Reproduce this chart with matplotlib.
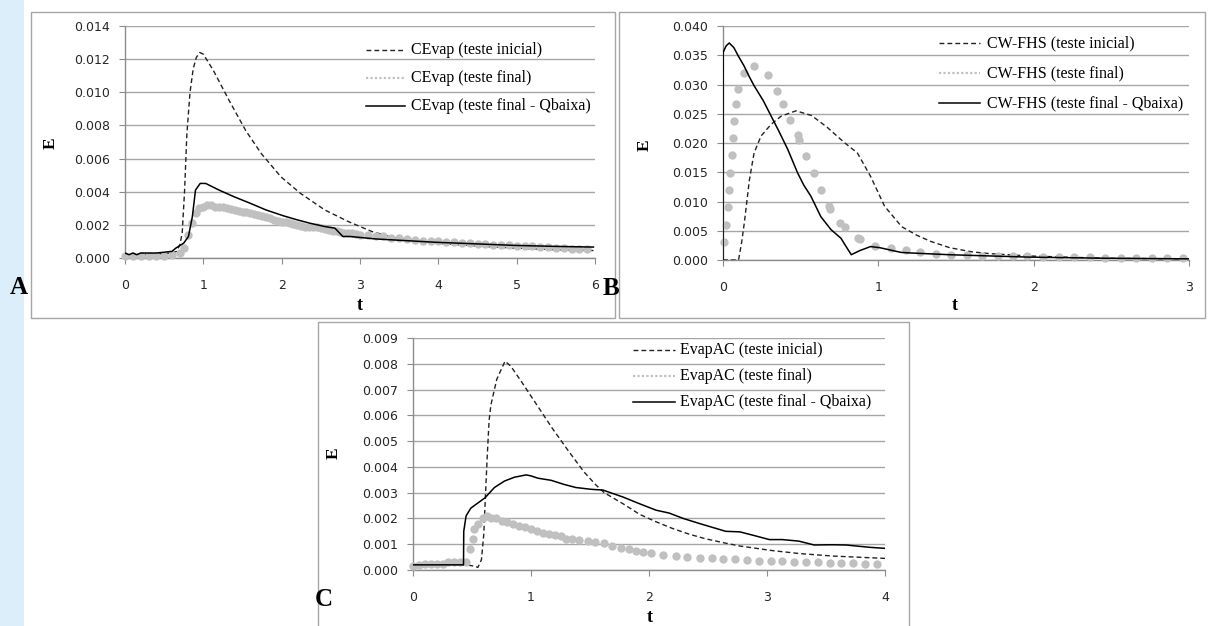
import matplotlib
matplotlib.use("Agg")
import matplotlib.pyplot as plt
from matplotlib.lines import Line2D
from matplotlib.patches import Rectangle
from matplotlib.ticker import FormatStrFormatter
import numpy as np

W, H = 1209, 626
SERIF = "Liberation Serif"
SANS = "DejaVu Sans"
GRID = "#a6a6a6"
BOX = "#a6a6a6"
DOT_GRAY = "#c0c0c0"
DASH = (0, (3.5, 2.2))

# ---- Panel A: CEvap ----
A_ini_t = [0, 0.3, 0.6, 0.66, 0.7, 0.73, 0.76, 0.79, 0.83, 0.87, 0.91, 0.955, 1.0, 1.13,
           1.33, 1.54, 1.74, 1.99, 2.24, 2.55, 2.85, 3.15, 3.45, 3.96, 4.5, 4.97, 5.5, 5.98]
A_ini_E = [0.0002, 0.0002, 0.0003, 0.0004, 0.0008, 0.0015, 0.0040, 0.0075, 0.0100, 0.0114,
           0.0121, 0.0124, 0.0123, 0.0113, 0.0095, 0.0077, 0.0063, 0.0049, 0.0039, 0.0029,
           0.0022, 0.0016, 0.0012, 0.0009, 0.00072, 0.0006, 0.0005, 0.00045]

A_low_t = [0, 0.05, 0.1, 0.15, 0.2, 0.4, 0.6, 0.65, 0.75, 0.81, 0.86, 0.9, 0.96, 1.03,
           1.2, 1.39, 1.6, 1.8, 2.02, 2.2, 2.36, 2.55, 2.68, 2.78, 2.87, 3.2, 3.96, 4.5,
           4.97, 5.5, 5.98]
A_low_E = [0.0003, 0.0002, 0.0003, 0.0002, 0.0003, 0.0003, 0.0004, 0.0006, 0.0009, 0.0013,
           0.0025, 0.0041, 0.0045, 0.0045, 0.0041, 0.0037, 0.0033, 0.0029, 0.00255, 0.0023,
           0.0021, 0.0019, 0.0018, 0.0013, 0.0013, 0.00115, 0.00095, 0.00085, 0.00076,
           0.0007, 0.00066]

A_fin_t = [0.0, 0.1, 0.2, 0.3, 0.4, 0.5, 0.6, 0.7, 0.75, 0.8, 0.85, 0.9, 0.95, 1.0, 1.05,
           1.1, 1.15, 1.2, 1.25, 1.3, 1.35, 1.4, 1.45, 1.5, 1.55, 1.6, 1.65, 1.7, 1.75, 1.8,
           1.85, 1.9, 1.95, 2.0, 2.05, 2.1, 2.15, 2.2, 2.25, 2.3, 2.35, 2.4, 2.45, 2.5,
           2.55, 2.6, 2.65, 2.7, 2.75, 2.8, 2.85, 2.9, 2.95, 3.0, 3.1, 3.2, 3.3, 3.4, 3.5,
           3.6, 3.7, 3.8, 3.9, 4.0, 4.1, 4.2, 4.3, 4.4, 4.5, 4.6, 4.7, 4.8, 4.9, 5.0, 5.1,
           5.2, 5.3, 5.4, 5.5, 5.6, 5.7, 5.8, 5.9]
A_fin_E = [0.00015, 0.00015, 0.00015, 0.00015, 0.00015, 0.00015, 0.0002, 0.0003, 0.0006,
           0.0014, 0.0021, 0.0027, 0.0030, 0.0031, 0.0032, 0.0032, 0.0031, 0.0031, 0.00305,
           0.0030, 0.00295, 0.0029, 0.00285, 0.0028, 0.00275, 0.0027, 0.00265, 0.0026,
           0.00255, 0.0025, 0.0024, 0.0023, 0.00225, 0.0022, 0.00215, 0.0021, 0.00205,
           0.0020, 0.00195, 0.0019, 0.0019, 0.0019, 0.00185, 0.0018, 0.00175, 0.0017,
           0.00165, 0.0016, 0.00155, 0.0015, 0.0015, 0.0015, 0.00145, 0.0014, 0.0014,
           0.0013, 0.0013, 0.0012, 0.0012, 0.00115, 0.0011, 0.00105, 0.0010, 0.0010,
           0.00097, 0.00095, 0.00092, 0.0009, 0.00087, 0.00084, 0.0008, 0.00078, 0.00076,
           0.00074, 0.00072, 0.0007, 0.00067, 0.00065, 0.00063, 0.0006, 0.00057, 0.00055,
           0.00053]

# ---- Panel B: CW-FHS ----
B_ini_t = [0, 0.1, 0.12, 0.137, 0.17, 0.2, 0.245, 0.31, 0.375, 0.47, 0.57, 0.67, 0.78,
           0.865, 0.95, 1.04, 1.15, 1.25, 1.335, 1.46, 1.6, 1.71, 1.96, 2.2, 2.46, 3.0]
B_ini_E = [0, 0, 0.003, 0.0063, 0.0137, 0.0183, 0.0212, 0.0232, 0.0246, 0.0255, 0.0247,
           0.0227, 0.0201, 0.0183, 0.0143, 0.0092, 0.0057, 0.0042, 0.0032, 0.0021, 0.0014,
           0.0011, 0.0007, 0.0005, 0.0003, 0.0002]

B_low_t = [0, 0.001, 0.02, 0.04, 0.07, 0.1, 0.135, 0.17, 0.2, 0.26, 0.31, 0.36, 0.417,
           0.48, 0.52, 0.566, 0.63, 0.695, 0.76, 0.79, 0.826, 0.88, 0.95, 1.01, 1.146, 1.21,
           1.46, 1.71, 1.96, 2.46, 3.0]
B_low_E = [0, 0.0355, 0.0366, 0.0371, 0.0363, 0.0348, 0.0332, 0.0313, 0.0298, 0.0272,
           0.0246, 0.0220, 0.0189, 0.0149, 0.0128, 0.0109, 0.0074, 0.0052, 0.0037, 0.0024,
           0.0009, 0.0016, 0.0023, 0.0021, 0.0013, 0.0012, 0.0009, 0.0007, 0.0005, 0.0003,
           0.0002]

B_fin_t = [0.009, 0.02, 0.03, 0.039, 0.047, 0.056, 0.062, 0.069, 0.082, 0.094, 0.137,
           0.197, 0.287, 0.347, 0.388, 0.433, 0.48, 0.49, 0.536, 0.588, 0.63, 0.68, 0.69,
           0.755, 0.785, 0.87, 0.88, 0.977, 1.08, 1.18, 1.27, 1.37, 1.47, 1.57, 1.67, 1.77,
           1.87, 1.96, 2.06, 2.16, 2.26, 2.36, 2.46, 2.56, 2.66, 2.76, 2.86, 2.96]
B_fin_E = [0.003, 0.006, 0.009, 0.0119, 0.0148, 0.0179, 0.0208, 0.0237, 0.0266, 0.0293,
           0.0319, 0.0332, 0.0316, 0.0289, 0.0267, 0.0240, 0.0213, 0.0205, 0.0177, 0.0149,
           0.0120, 0.0092, 0.0087, 0.0064, 0.0056, 0.0037, 0.0036, 0.0024, 0.0020, 0.0017,
           0.0014, 0.0011, 0.0009, 0.0008, 0.0007, 0.0007, 0.0006, 0.0006, 0.0005, 0.0005,
           0.0005, 0.0005, 0.0004, 0.0004, 0.0004, 0.0003, 0.0003, 0.0003]

# ---- Panel C: EvapAC ----
C_ini_t = [0, 0.45, 0.52, 0.55, 0.58, 0.6, 0.614, 0.63, 0.645, 0.66, 0.71, 0.78, 0.83,
           0.92, 1.05, 1.18, 1.32, 1.45, 1.55, 1.62, 1.78, 1.92, 2.06, 2.2, 2.34, 2.48,
           2.63, 2.77, 2.91, 3.05, 3.27, 3.56, 4.0]
C_ini_E = [0.0002, 0.0002, 0.00015, 0.0001, 0.0004, 0.0014, 0.0029, 0.0045, 0.0058,
           0.0064, 0.0074, 0.0081, 0.0079, 0.0073, 0.0064, 0.0055, 0.0046, 0.0038, 0.0033,
           0.0030, 0.00257, 0.00216, 0.00187, 0.00161, 0.00139, 0.00121, 0.00106, 0.00093,
           0.00084, 0.00075, 0.00064, 0.00054, 0.00045]

C_low_t = [0, 0.428, 0.43, 0.45, 0.49, 0.55, 0.61, 0.69, 0.775, 0.86, 0.96, 1.0, 1.06,
           1.17, 1.28, 1.38, 1.51, 1.61, 1.78, 1.92, 2.06, 2.17, 2.29, 2.43, 2.57, 2.65,
           2.77, 2.88, 3.02, 3.13, 3.27, 3.4, 3.55, 3.67, 3.87, 4.0]
C_low_E = [0.0002, 0.0002, 0.0015, 0.0021, 0.0024, 0.0026, 0.0028, 0.0032, 0.00345,
           0.0036, 0.00369, 0.00365, 0.00356, 0.00348, 0.00332, 0.0032, 0.00313, 0.0031,
           0.00283, 0.00257, 0.00232, 0.00221, 0.0020, 0.0018, 0.00161, 0.0015, 0.00148,
           0.00135, 0.00118, 0.00118, 0.00112, 0.00097, 0.00098, 0.00097, 0.00088, 0.00084]

C_fin_t = [0, 0.05, 0.1, 0.15, 0.2, 0.25, 0.3, 0.35, 0.4, 0.45, 0.48, 0.51, 0.52, 0.55,
           0.59, 0.63, 0.66, 0.7, 0.75, 0.8, 0.85, 0.9, 0.95, 1.0, 1.05, 1.1, 1.15, 1.2,
           1.25, 1.3, 1.35, 1.41, 1.48, 1.54, 1.62, 1.69, 1.76, 1.83, 1.89, 1.95, 2.02,
           2.12, 2.23, 2.32, 2.43, 2.53, 2.63, 2.73, 2.83, 2.93, 3.03, 3.13, 3.23, 3.33,
           3.43, 3.53, 3.63, 3.73, 3.83, 3.93]
C_fin_E = [0.00015, 0.0002, 0.00025, 0.00025, 0.00025, 0.00025, 0.0003, 0.0003, 0.0003,
           0.0003, 0.0008, 0.0012, 0.0016, 0.0018, 0.0020, 0.0021, 0.0020, 0.0020, 0.0019,
           0.00185, 0.0018, 0.0017, 0.00165, 0.0016, 0.0015, 0.00145, 0.0014, 0.00135,
           0.0013, 0.00122, 0.0012, 0.00116, 0.00113, 0.00108, 0.00103, 0.00093, 0.00086,
           0.0008, 0.00075, 0.0007, 0.00067, 0.0006, 0.00055, 0.00051, 0.00048, 0.00046,
           0.00042, 0.00041, 0.00039, 0.00036, 0.00035, 0.00034, 0.00032, 0.00031, 0.0003,
           0.00028, 0.00027, 0.00026, 0.00025, 0.00024]

SUFFIXES = [" (teste inicial)", " (teste final)", " (teste final - Qbaixa)"]

# geometry in pixels (x from left, y from top)
PANELS = [
    dict(name="CEvap", letter="A", box=(31, 12, 615, 318), axes=(125, 26, 595, 258),
         xmax=6, ymax=0.014, ystep=0.002,
         data=((A_ini_t, A_ini_E), (A_fin_t, A_fin_E), (A_low_t, A_low_E)),
         leg=(366, 405, 411, [50, 78, 106]), elab=(51, 143), tlab=(360, 306),
         let=(19, 288)),
    dict(name="CW-FHS", letter="B", box=(619, 12, 1205, 318), axes=(723, 26, 1189, 260),
         xmax=3, ymax=0.040, ystep=0.005,
         data=((B_ini_t, B_ini_E), (B_fin_t, B_fin_E), (B_low_t, B_low_E)),
         leg=(939, 980, 987, [43, 73, 103]), elab=(645, 145), tlab=(955, 305),
         let=(611, 289)),
    dict(name="EvapAC", letter="C", box=(318, 322, 909, 630), axes=(413, 338, 885, 570),
         xmax=4, ymax=0.009, ystep=0.001,
         data=((C_ini_t, C_ini_E), (C_fin_t, C_fin_E), (C_low_t, C_low_E)),
         leg=(633, 675, 680, [350, 376, 402]), elab=(334, 453), tlab=(650, 617),
         let=(324, 599)),
]

fig = plt.figure(figsize=(W / 100, H / 100), dpi=100)
fig.patch.set_facecolor("white")


def fx(x):
    return x / W


def fy(y):
    return 1 - y / H


# light blue strip on the left
fig.add_artist(Rectangle((0, 0), fx(24), 1, transform=fig.transFigure,
                         fc="#dbeefa", ec="none", zorder=0))

for p in PANELS:
    bl, bt, br, bb = p["box"]
    fig.add_artist(Rectangle((fx(bl), fy(bb)), (br - bl) / W, (bb - bt) / H,
                             transform=fig.transFigure, fill=False, ec=BOX, lw=1.0))

    l, t, r, b = p["axes"]
    ax = fig.add_axes([fx(l), fy(b), (r - l) / W, (b - t) / H])
    (ti, ei), (tf, ef), (tl, el) = p["data"]
    ax.plot(ti, ei, color="#222222", lw=1.0, linestyle=DASH, zorder=3)
    ax.plot(tf, ef, linestyle="none", marker="o", ms=6.0, color=DOT_GRAY,
            mec="none", zorder=4, clip_on=False)
    ax.plot(tl, el, color="black", lw=1.1, zorder=5)

    ax.set_xlim(0, p["xmax"])
    ax.set_ylim(0, p["ymax"])
    ax.set_xticks(np.arange(0, p["xmax"] + 1))
    ax.set_yticks(np.arange(0, p["ymax"] + p["ystep"] / 2, p["ystep"]))
    ax.yaxis.set_major_formatter(FormatStrFormatter("%.3f"))
    ax.yaxis.grid(True, color=GRID, lw=1.0)
    ax.set_axisbelow(True)
    for s in ("top", "right"):
        ax.spines[s].set_visible(False)
    for s in ("left", "bottom"):
        ax.spines[s].set_color("#8c8c8c")
        ax.spines[s].set_linewidth(1.0)
    ax.tick_params(axis="y", length=4, color="#8c8c8c", pad=7,
                   labelsize=9, labelcolor="#262626")
    ax.tick_params(axis="x", length=4, color="#8c8c8c", pad=11,
                   labelsize=9, labelcolor="#262626")
    for lab in ax.get_xticklabels() + ax.get_yticklabels():
        lab.set_fontfamily(SANS)

    # legend drawn by hand, Excel style
    x0, x1, xt, rows = p["leg"]
    styles = [dict(color="#222222", lw=1.0, linestyle=DASH),
              dict(color=DOT_GRAY, lw=1.6, linestyle=(0, (1, 1))),
              dict(color="black", lw=1.1, linestyle="-")]
    for suffix, row, st in zip(SUFFIXES, rows, styles):
        fig.add_artist(Line2D([fx(x0), fx(x1)], [fy(row), fy(row)],
                              transform=fig.transFigure, **st))
        fig.text(fx(xt), fy(row), p["name"] + suffix, family=SERIF, fontsize=11.5,
                 ha="left", va="center", color="black")

    fig.text(fx(p["elab"][0]), fy(p["elab"][1]), "E", family=SERIF, fontsize=12.5,
             fontweight="bold", rotation=90, ha="center", va="center")
    fig.text(fx(p["tlab"][0]), fy(p["tlab"][1]), "t", family=SERIF, fontsize=13,
             fontweight="bold", ha="center", va="center")
    fig.text(fx(p["let"][0]), fy(p["let"][1]), p["letter"], family=SERIF, fontsize=18,
             fontweight="bold", ha="center", va="center")

fig.savefig("out.png", dpi=100)
